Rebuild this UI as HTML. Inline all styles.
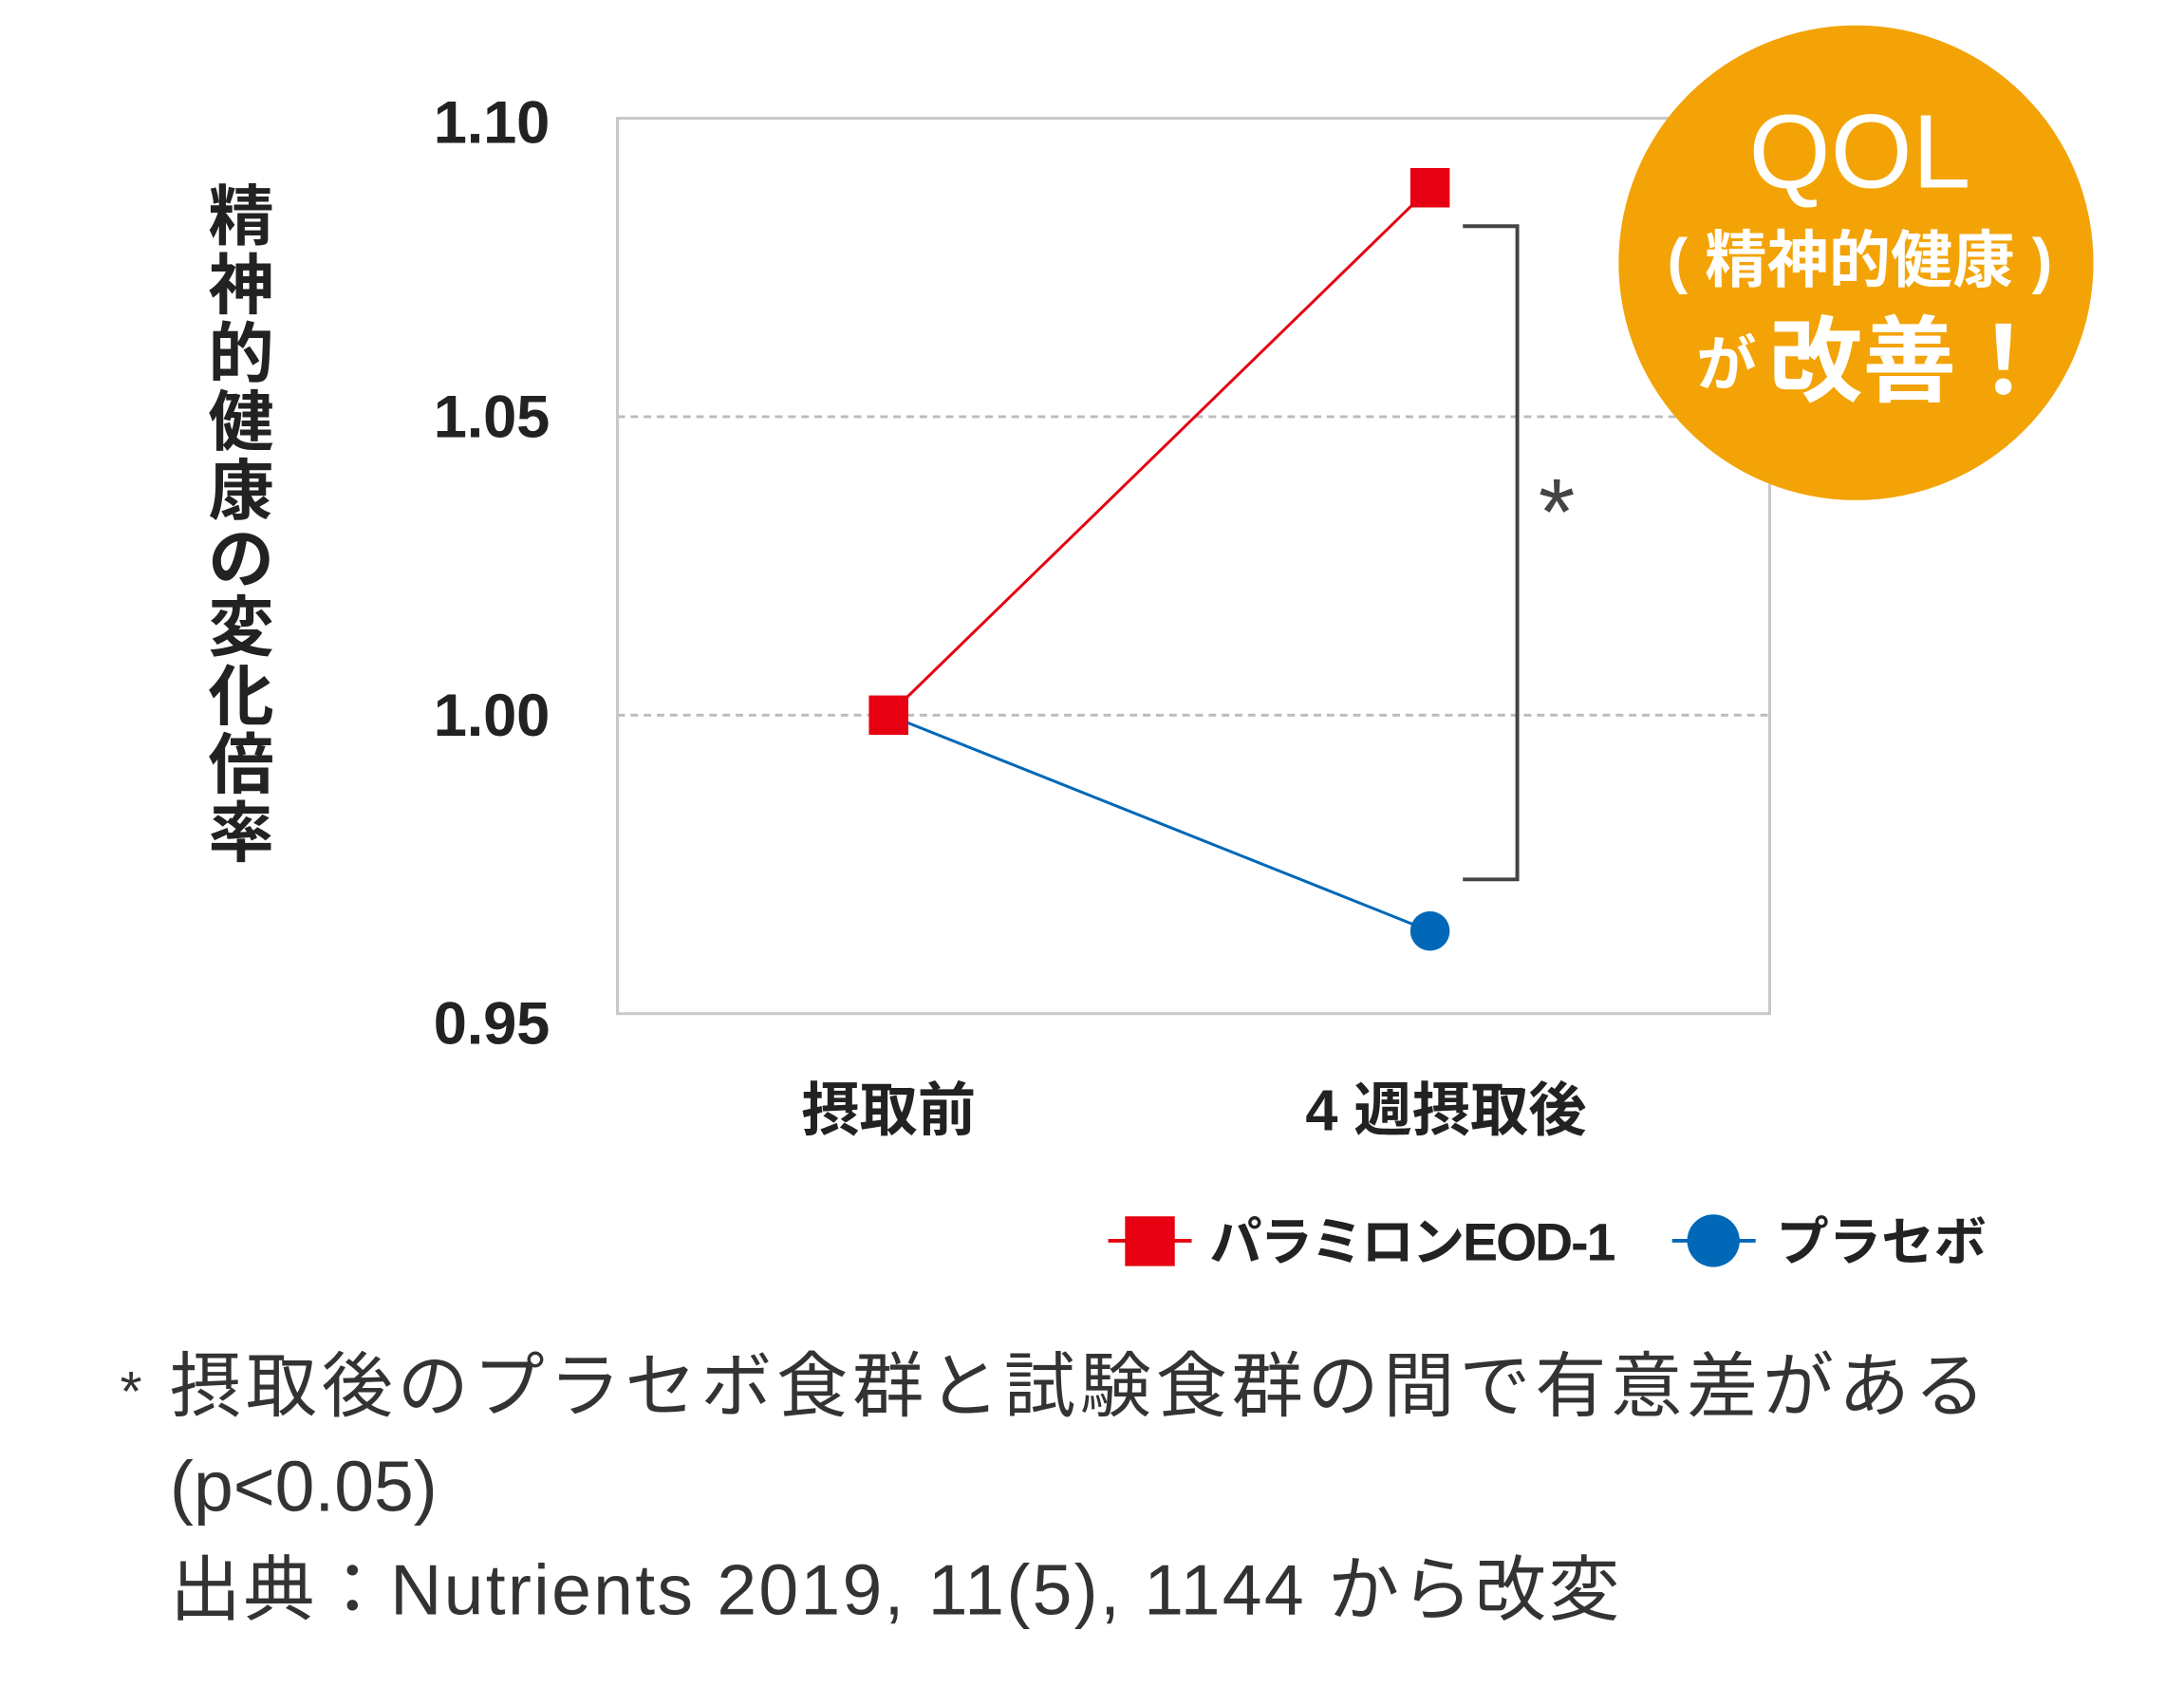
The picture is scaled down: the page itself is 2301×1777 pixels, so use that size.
<!DOCTYPE html>
<html><head><meta charset="utf-8"><style>
html,body{margin:0;padding:0;background:#fff;}
svg{display:block;}
text{font-family:"Liberation Sans","Noto Sans CJK JP",sans-serif;}
</style></head><body>
<svg width="2301" height="1777" viewBox="0 0 2301 1777" xmlns="http://www.w3.org/2000/svg">
<rect width="2301" height="1777" fill="#fff"/>
<g transform="scale(0.9886)">
<line x1="658" y1="444" x2="1886" y2="444" stroke="#bbb" stroke-width="3" stroke-dasharray="8,6"/>
<line x1="658" y1="762" x2="1886" y2="762" stroke="#bbb" stroke-width="3" stroke-dasharray="8,6"/>
<rect x="658" y="126" width="1228" height="954" fill="none" stroke="#c8c8c8" stroke-width="3"/>
<g font-size="64" font-weight="bold" fill="#222" text-anchor="end" font-family="Liberation Sans, sans-serif">
<text x="586" y="152" textLength="124">1.10</text>
<text x="586" y="466" textLength="124">1.05</text>
<text x="586" y="784" textLength="124">1.00</text>
<text x="586" y="1112" textLength="124">0.95</text>
</g>
<g font-size="70" font-weight="bold" fill="#222" text-anchor="middle">
<text x="257" y="255">精</text><text x="257" y="328">神</text><text x="257" y="401">的</text><text x="257" y="474">健</text><text x="257" y="547">康</text><text x="257" y="620">の</text><text x="257" y="693">変</text><text x="257" y="766">化</text><text x="257" y="839">倍</text><text x="257" y="912">率</text>
</g>
<line x1="947" y1="762" x2="1524" y2="200" stroke="#e60012" stroke-width="3"/>
<line x1="947" y1="762" x2="1524" y2="992" stroke="#0068b7" stroke-width="3"/>
<circle cx="1524" cy="992" r="21" fill="#0068b7"/>
<rect x="926" y="741" width="42" height="42" fill="#e60012"/>
<rect x="1503" y="179" width="42" height="42" fill="#e60012"/>
<polyline points="1559,241 1617,241 1617,937 1559,937" fill="none" stroke="#444" stroke-width="4"/>
<text x="1659" y="580" font-size="100" fill="#444" text-anchor="middle">*</text>
<circle cx="1978" cy="280" r="253" fill="#f3a305"/>
<g fill="#fff" text-anchor="middle">
<text x="1982" y="200" font-size="112">QOL</text>
<text x="1982" y="300" font-size="66" font-weight="bold">( 精神的健康 )</text>
<text x="1840" y="410" font-size="64" font-weight="bold">が</text>
<text x="2035" y="420" font-size="100" font-weight="bold">改善！</text>
</g>
<g font-size="62" font-weight="bold" fill="#222" text-anchor="middle">
<text x="947" y="1204">摂取前</text>
<text x="1541" y="1204">4 週摂取後</text>
</g>
<line x1="1181" y1="1322" x2="1270" y2="1322" stroke="#e60012" stroke-width="4"/>
<rect x="1199" y="1296" width="53" height="53" fill="#e60012"/>
<text x="1289" y="1343" font-size="56" font-weight="bold" fill="#222" textLength="433">パラミロンEOD-1</text>
<line x1="1782" y1="1322" x2="1871" y2="1322" stroke="#0068b7" stroke-width="4"/>
<circle cx="1826" cy="1322" r="28" fill="#0068b7"/>
<text x="1893" y="1343" font-size="56" font-weight="bold" fill="#222">プラセボ</text>
<g fill="#333" font-size="76">
<text x="128" y="1503" font-size="60">*</text>
<text x="181" y="1503" textLength="1935">摂取後のプラセボ食群と試験食群の間で有意差がある</text>
<text x="181" y="1610">(p&lt;0.05)</text>
<text x="181" y="1720" textLength="1545">出典：Nutrients 2019, 11(5), 1144 から改変</text>
</g>
</g>
</svg>
</body></html>
